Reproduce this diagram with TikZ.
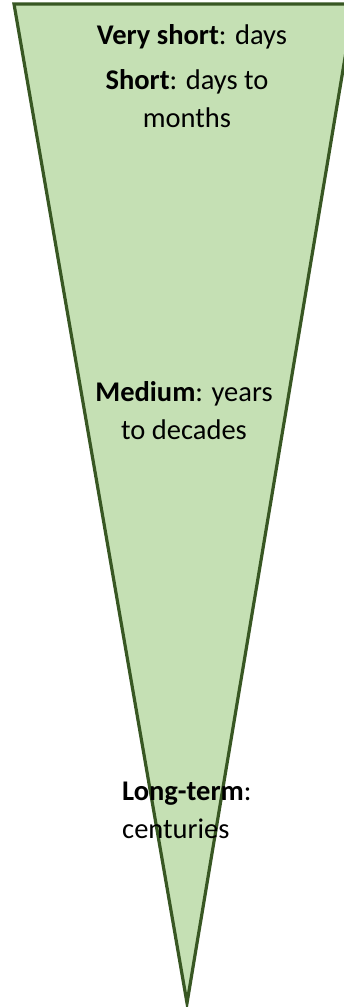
\documentclass[tikz,border=0pt]{standalone}
\usepackage{fontspec}
\setmainfont{Carlito}
\definecolor{wedgefill}{HTML}{C5E0B4}
\definecolor{wedgeline}{HTML}{385723}
\tikzset{
  scalelabel/.style={inner sep=0pt, font=\fontsize{28.5}{38}\selectfont, text=black},
}
\begin{document}
\begin{tikzpicture}[x=1pt,y=-1pt]
            \useasboundingbox (0,0) rectangle (343,1007);
            \draw [fill=wedgefill,draw=wedgeline,line width=3.2pt,line join=miter] (14,4) -- (354,4) -- (187,1003) -- cycle;
            \node [scalelabel] (vshort) at (192,37) {\textbf{Very short}: days};
            \node [scalelabel,align=center] (short) at (187,99) {\textbf{Short}: days to\\months};
            \node [scalelabel,align=center] (medium) at (184,411) {\textbf{Medium}: years\\to decades};
            \node [scalelabel,align=left,anchor=west] (longterm) at (122,810) {\textbf{Long-term}:\\centuries};
        \end{tikzpicture}
\end{document}
